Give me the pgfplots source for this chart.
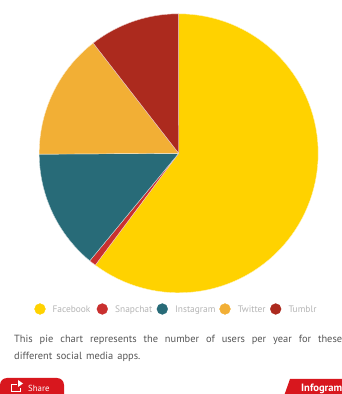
\documentclass[border=0pt]{standalone}
\usepackage{fontspec}
\setmainfont{PT Sans}
\usepackage{pgfplots}
\pgfplotsset{compat=1.18}
\definecolor{facebook}{HTML}{FFD200}
\definecolor{snapchat}{HTML}{C9302F}
\definecolor{instagram}{HTML}{286B78}
\definecolor{twitter}{HTML}{F2AF35}
\definecolor{tumblr}{HTML}{AC2A1E}
\definecolor{brandred}{HTML}{D8171E}
\definecolor{legendgrey}{HTML}{B4B4B4}
\definecolor{bodygrey}{HTML}{555555}
% One slice of the pie: colour, first and last cumulative share in percent,
% running clockwise from twelve o'clock around the centre (178.7,240.7).
\newcommand{\slice}[3]{%
  \addplot[fill=#1,draw=white!75!#1,line width=0.4pt,domain=#2:#3,samples=80,no markers]
    ({178.7+139.5*sin(3.6*x)},{240.7+139.5*cos(3.6*x)}) -- (axis cs:178.7,240.7) -- cycle;
}
\newcommand{\legendentry}[4]{%
  \addplot[only marks,mark=*,mark size=5.4pt,mark options={fill=#1,draw=#1}]
    coordinates {(#2,85)};
  \node[anchor=base west,inner sep=0pt,text=legendgrey,font=\fontsize{9.4}{11}\selectfont]
    at (axis cs:#3,81.5) {#4};
}
\begin{document}
\begin{tikzpicture}[x=1pt,y=1pt]
\clip (0,0) rectangle (342,394);
\begin{axis}[
  at={(0,0)},anchor=south west,
  scale only axis,width=342pt,height=394pt,
  xmin=0,xmax=342,ymin=0,ymax=394,
  hide axis,clip=false]
  % Facebook 60.2, Snapchat 0.8, Instagram 13.9, Twitter 14.6, Tumblr 10.5
  \slice{facebook}{0}{60.2}
  \slice{snapchat}{60.2}{61.0}
  \slice{instagram}{61.0}{74.9}
  \slice{twitter}{74.9}{89.5}
  \slice{tumblr}{89.5}{100}
  \legendentry{facebook}{40}{52.3}{Facebook}
  \legendentry{snapchat}{102.3}{115}{Snapchat}
  \legendentry{instagram}{162.3}{175}{Instagram}
  \legendentry{twitter}{225}{237.7}{Twitter}
  \legendentry{tumblr}{275.7}{288.3}{Tumblr}
\end{axis}
% Caption under the pie
\node[anchor=north west,inner sep=0pt,text width=328pt,align=justify,text=bodygrey,
  font=\fontsize{10.4}{17}\selectfont] at (14,59)
  {\spaceskip=1.45\fontdimen2\font plus 4em\relax This pie chart represents the number of users per year for these\linebreak different social media apps.};
% Share button and brand tab along the bottom edge
\fill[brandred,rounded corners=7pt] (0,-10) rectangle (64,16);
\draw[white,line width=1.2pt] (17,9.5) -- (11.5,9.5) -- (11.5,2.5) -- (20.5,2.5) -- (20.5,6);
\fill[white] (18,7) -- (23,10.5) -- (18,14) -- cycle;
\node[anchor=base west,inner sep=0pt,text=white,font=\fontsize{8.8}{10}\selectfont] at (28,2.6) {Share};
\fill[brandred] (284,-2) -- (290,15) -- (345,15) -- (345,-2) -- cycle;
\node[anchor=base west,inner sep=0pt,text=white,font=\bfseries\fontsize{10.6}{12}\selectfont] at (301,2) {Infogram};
\end{tikzpicture}
\end{document}
